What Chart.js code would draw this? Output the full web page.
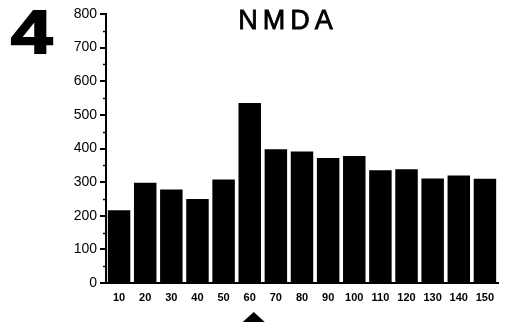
<!DOCTYPE html>
<html><head><meta charset="utf-8">
<script src="https://cdn.jsdelivr.net/npm/chart.js@4/dist/chart.umd.min.js"></script>
<style>html,body{margin:0;padding:0;background:#fff}#wrap{width:506px;height:329px}</style>
</head><body><div id="wrap"><canvas id="c" width="506" height="329"></canvas></div>
<script>
const categories = ['10','20','30','40','50','60','70','80','90','100','110','120','130','140','150'];
const values = [216, 298, 278, 250, 308, 535, 398, 391, 372, 378, 335, 338, 311, 320, 310];
const yTicks = [0,100,200,300,400,500,600,700,800];
const panelLabel = '4';
const titleText = 'NMDA';
const markedCategory = '60';

const extras = {
  id:'extras',
  afterDraw(chart){
    const ctx = chart.ctx, y = chart.scales.y, x = chart.scales.x;
    ctx.save();
    // minor ticks
    ctx.strokeStyle='#000'; ctx.lineWidth=1.5;
    for(let v=50; v<800; v+=100){
      const py = Math.round(y.getPixelForValue(v))+0.5;
      ctx.beginPath(); ctx.moveTo(y.right-3, py); ctx.lineTo(y.right, py); ctx.stroke();
    }
    // panel number
    ctx.fillStyle='#000';
    ctx.strokeStyle='#000'; ctx.lineWidth=2;
    ctx.font='bold 62px "Liberation Sans", Arial, sans-serif';
    ctx.textBaseline='alphabetic'; ctx.textAlign='left';
    ctx.save(); ctx.translate(11,53); ctx.scale(1.2,1); ctx.fillText(panelLabel,0,0); ctx.strokeText(panelLabel,0,0); ctx.restore();
    // title
    ctx.font='27px "Liberation Sans", Arial, sans-serif';
    ctx.letterSpacing='5px';
    ctx.textAlign='center';
    ctx.lineWidth=0.8;
    ctx.fillText(titleText, 288, 29);
    ctx.strokeText(titleText, 288, 29);
    ctx.letterSpacing='0px';
    // triangle marker
    const cx = x.getPixelForValue(categories.indexOf(markedCategory)) + 4;
    ctx.beginPath(); ctx.moveTo(cx, 312); ctx.lineTo(cx+11, 322); ctx.lineTo(cx-11, 322); ctx.closePath(); ctx.fill();
    ctx.restore();
  }
};

new Chart(document.getElementById('c'), {
  type:'bar',
  data:{labels:categories, datasets:[{data:values, backgroundColor:'#000', borderWidth:0, barPercentage:0.86, categoryPercentage:1}]},
  options:{
    responsive:false, animation:false, devicePixelRatio:1,
    layout:{padding:{left:0,right:8,top:14,bottom:0}},
    plugins:{legend:{display:false}, tooltip:{enabled:false}, title:{display:false}},
    scales:{
      x:{
        offset:true,
        grid:{display:false, drawTicks:false},
        border:{display:true, color:'#000', width:2},
        ticks:{color:'#000', font:{family:'"Liberation Sans", Arial, sans-serif', size:11, weight:'bold'}, padding:8, maxRotation:0, autoSkip:false},
        afterFit(s){ s.height = 46; }
      },
      y:{
        min:0, max:800,
        afterBuildTicks(s){ s.ticks = yTicks.map(v=>({value:v})); },
        grid:{drawOnChartArea:false, drawTicks:true, tickLength:6, color:'#000', lineWidth:2},
        border:{display:true, color:'#000', width:2},
        ticks:{color:'#000', font:{family:'"Liberation Sans", Arial, sans-serif', size:14}, padding:3},
        afterFit(s){ s.width = 106; }
      }
    }
  },
  plugins:[extras]
});
</script></body></html>
